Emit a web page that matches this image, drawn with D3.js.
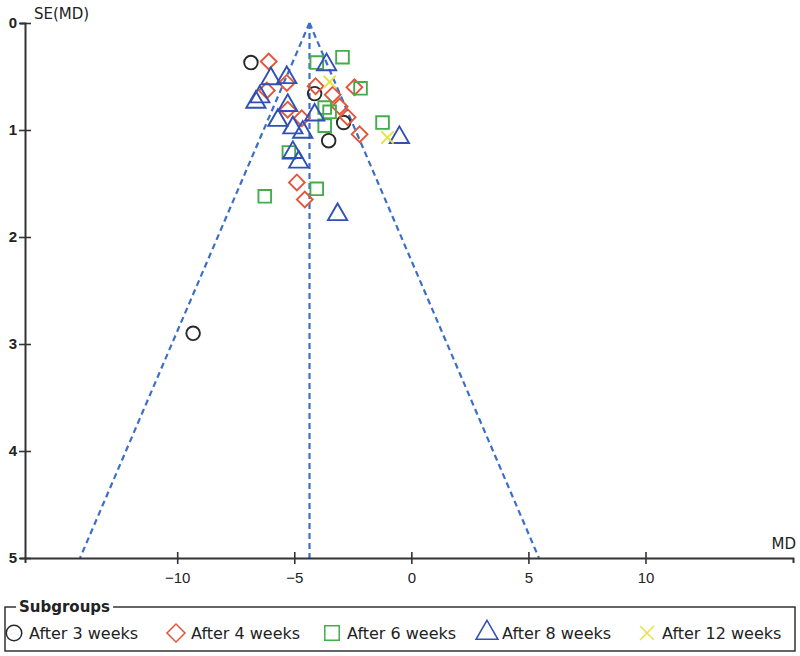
<!DOCTYPE html>
<html>
<head>
<meta charset="utf-8">
<script src="https://cdn.jsdelivr.net/npm/d3@7"></script>
<style>
  body { margin: 0; background: #fff; }
  svg { display: block; font-family: "DejaVu Sans", sans-serif; }
  .tick text { font-size: 15px; fill: #222; }
</style>
</head>
<body>
<div id="chart"></div>
<script>
// [MD, SE(MD)] per study
const week3 = [[-6.85, 0.37], [-4.13, 0.66], [-2.89, 0.93], [-3.53, 1.10], [-9.32, 2.90]];
const week4 = [[-6.09, 0.36], [-5.32, 0.56], [-6.17, 0.63], [-5.28, 0.81], [-4.09, 0.59],
               [-3.36, 0.67], [-2.43, 0.60], [-3.06, 0.78], [-2.72, 0.88], [-2.21, 1.04],
               [-4.68, 0.89], [-4.89, 1.49], [-4.55, 1.65]];
const week6 = [[-4.04, 0.37], [-2.94, 0.32], [-2.17, 0.61], [-3.70, 0.79], [-3.49, 0.83],
               [-3.70, 0.96], [-1.23, 0.93], [-5.23, 1.21], [-4.04, 1.55], [-6.26, 1.62]];
const week8 = [[-3.62, 0.39], [-6.00, 0.52], [-5.32, 0.51], [-6.47, 0.69], [-6.64, 0.74],
               [-5.28, 0.77], [-5.70, 0.91], [-4.13, 0.86], [-5.06, 0.98], [-4.64, 1.02],
               [-5.06, 1.21], [-4.81, 1.30], [-0.51, 1.07], [-3.15, 1.79]];
const week12 = [[-3.49, 0.55], [-1.02, 1.07]];

const pooledMD = -4.35;
const xTicks = [-10, -5, 0, 5, 10];
const yTicks = [0, 1, 2, 3, 4, 5];
const groupNames = ['After 3 weeks', 'After 4 weeks', 'After 6 weeks', 'After 8 weeks', 'After 12 weeks'];

const width = 800, height = 656;
const svg = d3.select('#chart').append('svg')
    .attr('width', width)
    .attr('height', height);

const x = d3.scaleLinear().domain([-16.5, 16.3]).range([25, 793]);
const y = d3.scaleLinear().domain([0, 5]).range([23, 558]);

// custom X marker
const symbolX = {
    draw(ctx, size) {
        const r = Math.sqrt(size) / 2;
        ctx.moveTo(-r, -r); ctx.lineTo(r, r);
        ctx.moveTo(r, -r); ctx.lineTo(-r, r);
    }
};

const groups = [
    { data: week3, type: d3.symbolCircle, size: 145, rotate: 0, color: '#2a2a2a' },
    { data: week4, type: d3.symbolSquare, size: 125, rotate: 45, color: '#e2563c' },
    { data: week6, type: d3.symbolSquare, size: 160, rotate: 0, color: '#43ad4b' },
    { data: week8, type: d3.symbolTriangle, size: 160, rotate: 0, color: '#3050b6' },
    { data: week12, type: symbolX, size: 150, rotate: 0, color: '#e6e23e' }
];

// funnel lines
const funnel = svg.append('g')
    .attr('fill', 'none')
    .attr('stroke', '#3b6fc6')
    .attr('stroke-width', 2.2)
    .attr('stroke-dasharray', '6,4');

funnel.append('line')
    .attr('x1', x(pooledMD)).attr('y1', y(0))
    .attr('x2', x(pooledMD)).attr('y2', y(5));
funnel.append('line')
    .attr('x1', x(pooledMD)).attr('y1', y(0))
    .attr('x2', x(pooledMD - 1.96 * 5)).attr('y2', y(5));
funnel.append('line')
    .attr('x1', x(pooledMD)).attr('y1', y(0))
    .attr('x2', x(pooledMD + 1.96 * 5)).attr('y2', y(5));

// axes
const xAxis = svg.append('g')
    .attr('transform', `translate(0,${y(5)})`)
    .call(d3.axisBottom(x).tickValues(xTicks).tickSizeOuter(0).tickSize(5).tickPadding(9)
        .tickFormat(d3.format('d')));
xAxis.select('.domain').attr('stroke', '#333').attr('stroke-width', 2);
xAxis.selectAll('.tick line').attr('y1', -6).attr('y2', 6).attr('stroke', '#333').attr('stroke-width', 1.6);
xAxis.selectAll('.tick text').attr('font-size', 16);

const yAxis = svg.append('g')
    .attr('transform', `translate(${x.range()[0]},0)`)
    .call(d3.axisLeft(y).tickValues(yTicks).tickSizeOuter(0).tickSize(5).tickPadding(3)
        .tickFormat(d3.format('d')));
yAxis.select('.domain').attr('stroke', '#333').attr('stroke-width', 2);
yAxis.selectAll('.tick line').attr('x1', -6).attr('x2', 6).attr('stroke', '#333').attr('stroke-width', 1.6);
yAxis.selectAll('.tick text').attr('font-weight', 'bold').attr('font-size', 16);

svg.append('text')
    .attr('x', 34).attr('y', 19)
    .attr('font-size', 15)
    .attr('fill', '#222')
    .text('SE(MD)');

svg.append('text')
    .attr('x', 796).attr('y', 549)
    .attr('text-anchor', 'end')
    .attr('font-size', 15)
    .attr('fill', '#222')
    .text('MD');

// points
groups.forEach(gr => {
    const sym = d3.symbol().type(gr.type).size(gr.size);
    svg.append('g').selectAll('path')
        .data(gr.data)
        .join('path')
        .attr('d', sym)
        .attr('transform', d => `translate(${x(d[0])},${y(d[1])}) rotate(${gr.rotate})`)
        .attr('fill', 'none')
        .attr('stroke', gr.color)
        .attr('stroke-width', 1.9);
});

// legend
const legend = svg.append('g');
legend.append('rect')
    .attr('x', 5).attr('y', 607)
    .attr('width', 790).attr('height', 44)
    .attr('fill', 'none')
    .attr('stroke', '#333')
    .attr('stroke-width', 1.5);

const title = legend.append('text')
    .attr('x', 19).attr('y', 612)
    .attr('font-size', 15)
    .attr('font-weight', 'bold')
    .attr('fill', '#222')
    .text('Subgroups');
const bb = title.node().getBBox();
legend.insert('rect', 'text')
    .attr('x', bb.x - 3).attr('y', 600)
    .attr('width', bb.width + 6).attr('height', 12)
    .attr('fill', '#fff');

const legendX = [14, 176, 332, 487, 647];
groupNames.forEach((name, i) => {
    const gr = groups[i];
    const sym = d3.symbol().type(gr.type).size(gr.size * 1.3);
    legend.append('path')
        .attr('d', sym)
        .attr('transform', `translate(${legendX[i]},633) rotate(${gr.rotate})`)
        .attr('fill', 'none')
        .attr('stroke', gr.color)
        .attr('stroke-width', 1.5);
    legend.append('text')
        .attr('x', legendX[i] + 15).attr('y', 639)
        .attr('font-size', 16)
        .attr('fill', '#222')
        .text(name);
});
</script>
</body>
</html>
